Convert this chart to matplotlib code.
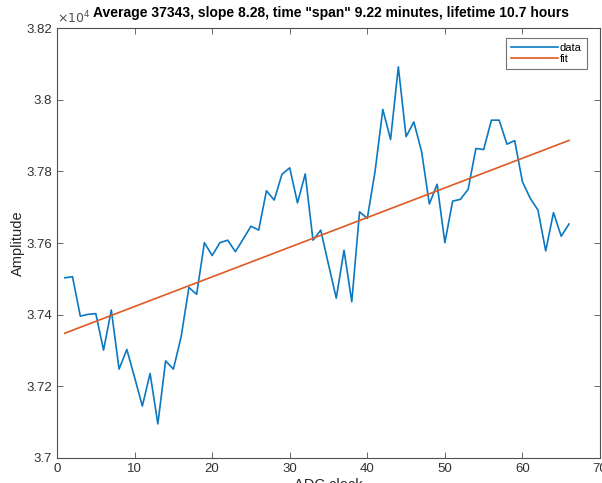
import matplotlib

matplotlib.use("Agg")
import matplotlib.pyplot as plt
import numpy as np
from matplotlib.ticker import FuncFormatter

plt.rcParams["font.family"] = ["Liberation Sans", "DejaVu Sans"]

# ADC samples, one per clock step
clock = list(range(1, 67))
amplitude = [
    37503, 37506, 37396, 37401, 37403, 37301, 37413, 37248, 37303, 37225,
    37145, 37236, 37095, 37271, 37248, 37338, 37476, 37457, 37601, 37565,
    37601, 37608, 37576, 37611, 37647, 37636, 37746, 37720, 37792, 37810,
    37712, 37793, 37608, 37636, 37540, 37446, 37580, 37436, 37687, 37669,
    37800, 37973, 37889, 38092, 37897, 37938, 37855, 37709, 37764, 37601,
    37717, 37722, 37750, 37864, 37861, 37943, 37943, 37876, 37886, 37771,
    37725, 37692, 37578, 37685, 37619, 37653,
]
fit_slope = 8.28
fit_intercept = 37340.0

title = 'Average 37343, slope 8.28, time "span" 9.22 minutes, lifetime 10.7 hours'

BLUE = "#0B78C2"
ORANGE = "#DE5A22"
AXIS_GREY = "#505050"

x = np.array(clock)
fit = fit_intercept + fit_slope * x

fig = plt.figure(figsize=(6.02, 4.83), dpi=100)
ax = fig.add_axes([0.0947, 0.0518, 0.902, 0.890])

ax.plot(x, amplitude, color=BLUE, linewidth=1.2, label="data")
ax.plot(x, fit, color=ORANGE, linewidth=1.2, label="fit")

ax.set_xlim(0, 70)
ax.set_ylim(37000, 38200)
ax.set_xticks(range(0, 71, 10))
ax.set_yticks(np.arange(37000, 38201, 200))
ax.yaxis.set_major_formatter(FuncFormatter(lambda v, _: f"{v / 1e4:g}"))

ax.tick_params(direction="in", top=True, right=True, length=4, width=0.6,
               colors=AXIS_GREY, labelsize=9.5, labelcolor="#303030")
for spine in ax.spines.values():
    spine.set_color(AXIS_GREY)
    spine.set_linewidth(0.8)

ax.set_xlabel("ADC clock", fontsize=10.5, color="#262626", labelpad=2)
ax.set_ylabel("Amplitude", fontsize=10.5, color="#262626", labelpad=1)
ax.set_title(title, fontsize=10, fontweight="bold", pad=8, x=0.505)
ax.text(0.0, 1.005, r"$\times10^{4}$", transform=ax.transAxes,
        fontsize=9, color="#505050", ha="left", va="bottom")

leg = ax.legend(loc="upper right", fontsize=8, handlelength=4.2, handletextpad=0.2,
                borderpad=0.45, labelspacing=0.05, fancybox=False,
                bbox_to_anchor=(0.986, 0.99))
leg.get_frame().set_edgecolor(AXIS_GREY)
leg.get_frame().set_linewidth(0.8)

fig.savefig("out.png", dpi=100)
